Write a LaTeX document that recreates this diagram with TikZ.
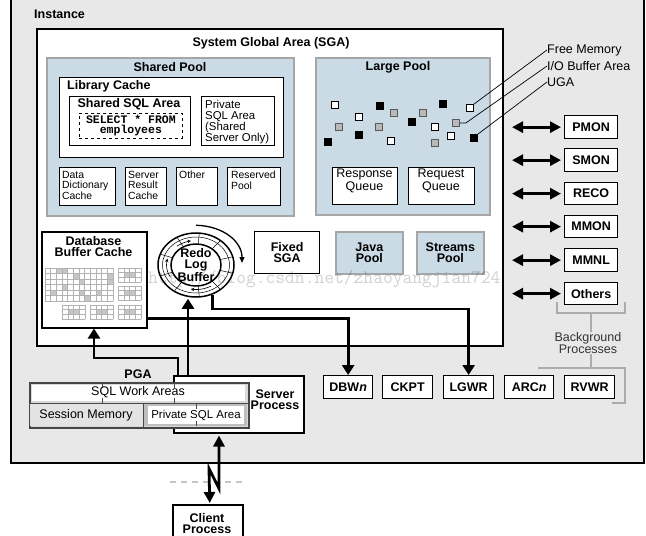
\documentclass[tikz,border=0pt]{standalone}
\usepackage{fontspec}
\setmainfont{Liberation Sans}
\newfontfamily\courierfont{Liberation Mono}
\usetikzlibrary{arrows.meta,calc,shapes.geometric}
\definecolor{instgray}{HTML}{E8E8E8}
\definecolor{poolblue}{HTML}{CBDBE5}
\definecolor{poolborder}{HTML}{A6A6A6}
\newcommand\mybox[7]{\node[#1, anchor=north west, minimum width={(#5)-(#3)}, minimum height={(#6)-(#4)}] (#2) at (#3,#4) {#7};}
\newcommand\mygrid[6]{%
  \foreach \i in {0,...,#5} \draw[gridl] ({#1+\i*#3/#5},#2) -- ({#1+\i*#3/#5},{#2+#4});
  \foreach \j in {0,...,#6} \draw[gridl] (#1,{#2+\j*#4/#6}) -- ({#1+#3},{#2+\j*#4/#6});}
\begin{document}
\begin{tikzpicture}[x=1pt,y=-1pt,
  bx/.style={draw=black, line width=1.3pt, fill=white, inner sep=0pt},
  instbox/.style={draw=black, line width=1.6pt, fill=instgray, inner sep=0pt},
  pool/.style={draw=poolborder, line width=1.8pt, fill=poolblue, inner sep=0pt},
  hd/.style={font=\bfseries\fontsize{12.5}{11}\selectfont, align=center, inner sep=0pt},
  rg/.style={font=\fontsize{12.5}{11}\selectfont, align=center, inner sep=0pt},
  sm/.style={font=\fontsize{10.4}{10.5}\selectfont, align=left, anchor=north west, inner sep=0pt},
  hdbox/.style={bx, font=\bfseries\fontsize{12.5}{11}\selectfont, align=center},
  hdpool/.style={pool, font=\bfseries\fontsize{12.5}{11}\selectfont, align=center},
  pgab/.style={draw=gray!55!black, line width=1.5pt, fill=gray!30, inner sep=0pt},
  sqw/.style={draw=black, line width=0.6pt, fill=white, minimum size=7, inner sep=0pt},
  sqk/.style={sqw, fill=black},
  sqg/.style={sqw, draw=gray!70!black, fill=gray!55},
  leader/.style={line width=0.7pt},
  brk/.style={draw=gray!65, line width=1.2pt},
  gridl/.style={draw=gray!60, line width=0.35pt},
  thickarr/.style={line width=2.8pt, -{Triangle[length=10pt,width=12pt]}},
  dblarr/.style={line width=2.8pt, {Triangle[length=11pt,width=11pt]}-{Triangle[length=11pt,width=11pt]}}
]
\useasboundingbox (0,0) rectangle (646,536);

% Instance
\mybox{instbox}{inst}{10}{-3}{643}{462}{}
\node[hd, anchor=west] (instt) at (34,14) {Instance};

% SGA
\mybox{bx, line width=1.5pt}{sga}{36}{28}{502}{345}{}
\node[hd] (sgat) at (271,43) {System Global Area (SGA)};

% Shared pool
\mybox{pool}{shp}{46}{57}{293}{215}{}
\node[hd] (shpt) at (170,67) {Shared Pool};
\mybox{bx}{lib}{59}{77}{283}{157}{}
\node[hd, anchor=west] (libt) at (67,86) {Library Cache};
\mybox{bx}{ssql}{69}{96}{190}{145}{}
\node[hd] (ssqlt) at (129,104) {Shared SQL Area};
\mybox{draw=black, dashed, line width=0.8pt, inner sep=0pt, font=\courierfont\bfseries\fontsize{11.5}{10}\selectfont, align=center}{sel}{79}{113}{182}{138}{SELECT * FROM\\employees}
\mybox{bx}{psql}{201}{96}{274}{145}{}
\node[sm, font=\fontsize{11.4}{11}\selectfont] (psqlt) at (205,100) {Private\\SQL Area\\(Shared\\Server Only)};
\mybox{bx}{ddc}{59}{167}{115}{205}{}
\node[sm] (ddct) at (62,171) {Data\\Dictionary\\Cache};
\mybox{bx}{src}{125}{167}{166}{205}{}
\node[sm] (srct) at (128,171) {Server\\Result\\Cache};
\mybox{bx}{oth}{176}{167}{217}{205}{}
\node[sm] (otht) at (179,171) {Other};
\mybox{bx}{rsv}{227}{167}{280}{205}{}
\node[sm] (rsvt) at (231,171) {Reserved\\Pool};

% Large pool
\mybox{pool}{lp}{315}{57}{489}{214}{}
\node[hd] (lpt) at (398,67) {Large Pool};
\mybox{bx}{rspq}{332}{167}{397}{204}{}
\node[rg] (rspqt) at (364.5,181) {Response\\Queue};
\mybox{bx}{reqq}{408}{167}{474}{204}{}
\node[rg] (reqqt) at (441,181) {Request\\Queue};
\foreach \n/\x/\y in {w1/335/105, w2/359/117, w3/391/141, w4/435/127, w5/451/136, w6/470/108}
  \node[sqw] (\n) at (\x,\y) {};
\foreach \n/\x/\y in {k1/380/106, k2/359/135, k3/328/142, k4/412/122, k5/443/104, k6/474/138}
  \node[sqk] (\n) at (\x,\y) {};
\foreach \n/\x/\y in {g1/339/127, g2/394/113, g3/379/127, g4/423/113, g5/435/143, g6/456/123}
  \node[sqg] (\n) at (\x,\y) {};

\node[rg, anchor=west] (fm) at (547,50) {Free Memory};
\node[rg, anchor=west] (iob) at (547,66) {I/O Buffer Area};
\node[rg, anchor=west] (uga) at (547,82) {UGA};
\draw[leader] (w6.north east) -- (fm.west);
\draw[leader] (g6.east) -- ++(6,0) -- (iob.west);
\draw[leader] (k6.north east) -- (uga.west);

% Database buffer cache
\mybox{bx, line width=1.5pt}{dbc}{41}{231}{146}{327}{}
\node[hd] (dbct) at (93.5,247) {Database\\Buffer Cache};
\foreach \c/\r in {2/0,3/0,5/1,6/2,11/1,11/2,3/3,1/4,6/4,9/4,7/5}
  \fill[gray!45] ({45+\c*68/12},{268+\r*5.5}) rectangle ++(5.667,5.5);
\foreach \gx/\gy in {118/268,118/286,62/305,90/305,118/305}
  \fill[gray!45] ({\gx+23/4},{\gy+14/3}) rectangle ++(11.5,4.67);
\mygrid{45}{268}{68}{33}{12}{6}
\mygrid{118}{268}{23}{14}{4}{3}
\mygrid{118}{286}{23}{14}{4}{3}
\mygrid{62}{305}{23}{14}{4}{3}
\mygrid{90}{305}{23}{14}{4}{3}
\mygrid{118}{305}{23}{14}{4}{3}

% Redo log buffer
\node[draw, ellipse, line width=1.5pt, fill=white, minimum width=76, minimum height=64, inner sep=0pt] (rlb) at (196,265) {};
\draw[line width=0.5pt] (196,265) ellipse [x radius=33.5, y radius=28];
\foreach \t in {15,50,85,120,160,200,235,275,310,345}
  \draw[line width=0.5pt] ({196+25*cos(\t)},{265-21*sin(\t)}) -- ({196+37*cos(\t)},{265-31*sin(\t)});
\draw[line width=0.6pt, -{Stealth[length=3.5pt,width=3.5pt]}] plot[domain=210:165, samples=10] ({196+29.5*cos(\x)},{265-24.5*sin(\x)});
\draw[line width=0.6pt, -{Stealth[length=3.5pt,width=3.5pt]}] plot[domain=130:100, samples=10] ({196+29.5*cos(\x)},{265-24.5*sin(\x)});
\draw[line width=0.6pt, -{Stealth[length=3.5pt,width=3.5pt]}] plot[domain=300:260, samples=10] ({196+29.5*cos(\x)},{265-24.5*sin(\x)});
\node[draw, ellipse, line width=1.5pt, fill=white, minimum width=50, minimum height=42, inner sep=0pt] (rlbi) at (196,265) {};
\node[hd] (rlbt) at (196,265) {Redo\\Log\\Buffer};
\draw[line width=1.3pt, -{Triangle[length=6pt,width=5pt]}] ($(rlb.north)+(0,-7)$) .. controls (224,226) and (242,242) .. (242,263);

% Fixed SGA, Java, Streams
\mybox{hdbox}{fsga}{254}{231}{319}{273}{Fixed\\SGA}
\mybox{hdpool}{jp}{335}{231}{402}{273}{Java\\Pool}
\mybox{hdpool}{stp}{416}{231}{483}{273}{Streams\\Pool}

% Right background processes
\mybox{hdbox}{pmon}{564}{115}{617}{138}{PMON}
\mybox{hdbox}{smon}{564}{148}{617}{171}{SMON}
\mybox{hdbox}{reco}{564}{182}{617}{204}{RECO}
\mybox{hdbox}{mmon}{564}{215}{617}{237}{MMON}
\mybox{hdbox}{mmnl}{564}{248}{617}{271}{MMNL}
\mybox{hdbox}{others}{564}{282}{617}{304}{Others}
\foreach \p in {pmon,smon,reco,mmon,mmnl,others}
  \draw[dblarr] ($(\p.west)+(-52,0)$) -- ($(\p.west)+(-3,0)$);

% Bottom background processes
\mybox{hdbox}{dbwn}{323}{375}{372}{398}{DBW\textit{n}}
\mybox{hdbox}{ckpt}{382}{375}{432}{398}{CKPT}
\mybox{hdbox}{lgwr}{443}{375}{493}{398}{LGWR}
\mybox{hdbox}{arcn}{504}{375}{553}{398}{ARC\textit{n}}
\mybox{hdbox}{rvwr}{564}{375}{614}{398}{RVWR}

% Background processes brackets
\node[rg, text=black!80] (bgp) at (588,343) {Background\\Processes};
\draw[brk] (557,302) -- (557,313) -- (625,313) -- (625,302);
\draw[brk] (591,313) -- (bgp.north -| 591,0);
\draw[brk] (bgp.south -| 591,0) -- (591,368);
\draw[brk] (538,368) -- (625,368) -- (625,403) -- (612,403);

% Server process and PGA
\mybox{bx, line width=1.5pt}{sp}{173}{375}{303}{432}{}
\node[hd] (spt) at (275,400) {Server\\Process};
\node[hd] (pgat) at (138,374) {PGA};
\mybox{pgab}{pga}{29}{382}{248}{427}{}
\fill[white] (32,385) rectangle (245,401);
\draw[gray!55!black, line width=1pt] (29,403) -- (248,403);
\fill[gray!22] (30,404) rectangle (143,426);
\fill[gray!50] (143,404) rectangle (247,426);
\fill[white] (148,406) rectangle (244,424);
\draw[gray!55!black, line width=1pt] (143,403) -- (143,427);
\draw[gray!60!black, line width=0.6pt] (102,383) -- (102,388) (102,398) -- (102,403) (174,383) -- (174,388) (174,398) -- (174,403) (196,404) -- (196,409) (196,421) -- (196,426);
\node[rg] (swa) at (138,392) {SQL Work Areas};
\node[rg] (sesm) at (86,415) {Session Memory};
\node[rg, font=\fontsize{11.5}{11}\selectfont] (pvsql) at (196,415) {Private SQL Area};

% Thick arrows
\draw[thickarr] (rlb.299) |- ($(lgwr.north)+(0,-66)$) -- (lgwr.north);
\draw[thickarr] ($(dbc.south east)+(0,-10)$) -| (dbwn.north);
\draw[thickarr] ($(sp.north west)+(15,0)$) -- ($(rlb.south)+(-8,1)$);
\draw[thickarr] ($(sp.north west)+(5,0)$) -- ++(0,-17) -| ($(dbc.south west)+(53,0)$);

% Client process
\mybox{bx, line width=1.5pt}{cp}{172}{504}{242}{548}{}
\node[hd] (cpt) at (207,524) {Client\\Process};
\draw[gray!45, line width=1.5pt, dash pattern=on 6pt off 5pt] ($(cp.north west)+(-2,-22)$) -- ($(cp.north east)+(0,-22)$);
\draw[dblarr] ($(sp.south west)+(46,2)$) -- ++(0,53) -- ++(-10,-20) -- ($(cp.north)+(2,-1)$);

% watermark
\node[text=black, opacity=0.18, font=\ttfamily\fontsize{19}{19}\selectfont, anchor=west, inner sep=0pt] (wm) at (148,279) {http://blog.csdn.net/zhaoyangjian724};
\end{tikzpicture}
\end{document}
